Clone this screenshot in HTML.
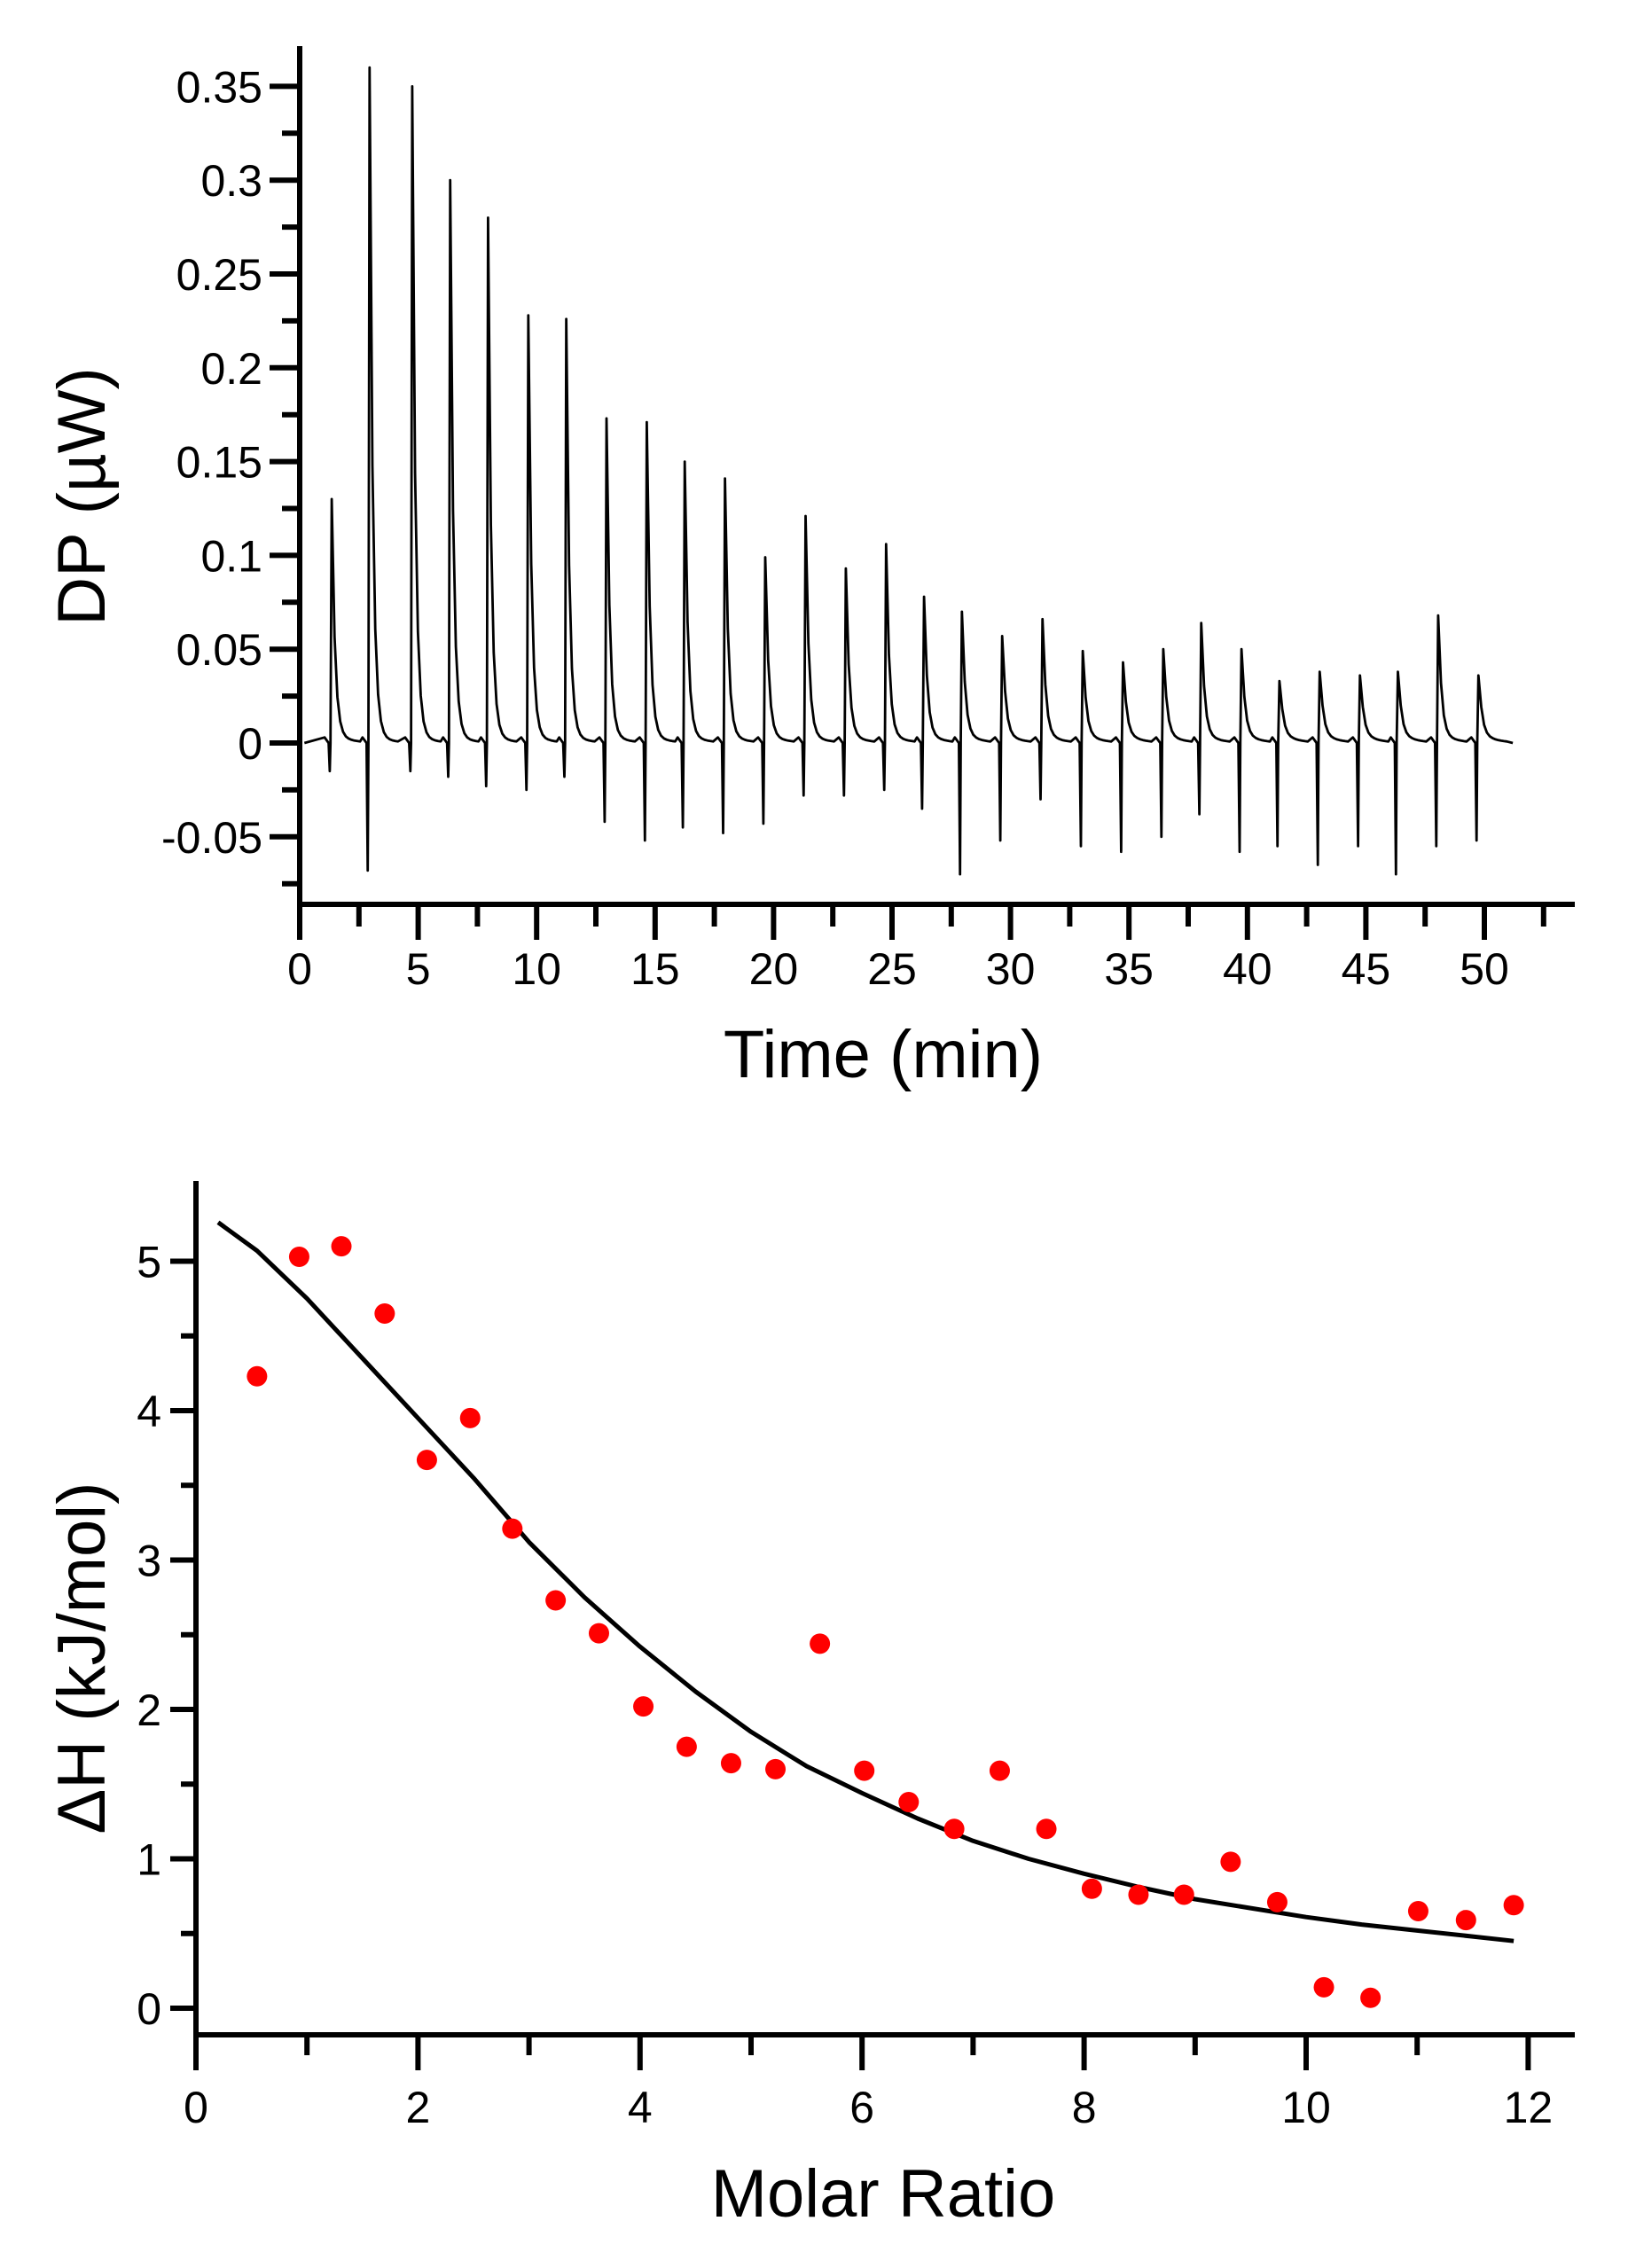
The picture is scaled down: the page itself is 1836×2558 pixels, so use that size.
<!DOCTYPE html>
<html><head><meta charset="utf-8">
<style>
html,body{margin:0;padding:0;background:#fff;}
svg{display:block;font-family:"Liberation Sans",sans-serif;}
</style></head>
<body>
<svg id="chart" width="1836" height="2558" viewBox="0 0 1836 2558" xmlns="http://www.w3.org/2000/svg">
<g id="topPanel"></g>
<g id="botPanel"></g>
</svg>
<script>
// ---- Thermogram data ----
const injTimes = [1.3,2.9,4.7,6.3,7.9,9.6,11.2,12.9,14.6,16.2,17.9,19.6,21.3,23.0,24.7,26.3,27.9,29.6,31.3,33.0,34.7,36.4,38.0,39.7,41.3,43.0,44.7,46.3,48.0,49.7];
const injPeaks = [0.13,0.36,0.35,0.30,0.28,0.228,0.226,0.173,0.171,0.15,0.141,0.099,0.121,0.093,0.106,0.078,0.07,0.057,0.066,0.049,0.043,0.05,0.064,0.05,0.033,0.038,0.036,0.038,0.068,0.036];
const injDips = [-0.015,-0.068,-0.015,-0.018,-0.023,-0.025,-0.018,-0.042,-0.052,-0.045,-0.048,-0.043,-0.028,-0.028,-0.025,-0.035,-0.07,-0.052,-0.03,-0.055,-0.058,-0.05,-0.038,-0.058,-0.055,-0.065,-0.055,-0.07,-0.055,-0.052];
const dpTicks = ["-0.05","0","0.05","0.1","0.15","0.2","0.25","0.3","0.35"];
const timeTicks = ["0","5","10","15","20","25","30","35","40","45","50"];
// ---- Isotherm data ----
const ratioX = [0.55,0.93,1.31,1.7,2.08,2.47,2.85,3.24,3.63,4.03,4.42,4.82,5.22,5.62,6.02,6.42,6.83,7.24,7.66,8.07,8.49,8.9,9.32,9.74,10.16,10.58,11.01,11.44,11.87];
const dH = [4.23,5.03,5.1,4.65,3.67,3.95,3.21,2.73,2.51,2.02,1.75,1.64,1.6,2.44,1.59,1.38,1.2,1.59,1.2,0.8,0.76,0.76,0.98,0.71,0.14,0.07,0.65,0.59,0.69];
const fitX = [0.2,0.55,1,1.5,2,2.5,3,3.5,4,4.5,5,5.5,6,6.5,7,7.5,8,8.5,9,9.5,10,10.5,11,11.5,11.87];
const fitY = [5.26,5.07,4.75,4.35,3.95,3.55,3.12,2.75,2.42,2.12,1.85,1.62,1.44,1.27,1.12,1.0,0.9,0.81,0.73,0.67,0.61,0.56,0.52,0.48,0.45];
const ratioTicks = ["0","2","4","6","8","10","12"];
const dHTicks = ["0","1","2","3","4","5"];

const NS="http://www.w3.org/2000/svg";
function mk(parent,tag,attrs,text){const e=document.createElementNS(NS,tag);for(const k in attrs)e.setAttribute(k,attrs[k]);if(text!==undefined)e.textContent=text;parent.appendChild(e);return e;}
const AX=6, TF=50, TT=76;

// ---- Top panel ----
const topG=document.getElementById('topPanel');
const tx=t=>338+t*26.72;
const ty=v=>838-v*2116;
let a=mk(topG,'line',{x1:338,y1:52,x2:338,y2:1020,stroke:'#000','stroke-width':AX});


a=mk(topG,'line',{x1:335,y1:1020,x2:1776,y2:1020,stroke:'#000','stroke-width':AX});


for(let i=-3;i<=14;i++){const v=i*0.025;const y=ty(v);const major=i%2===0;
  const l=mk(topG,'line',{x1:major?304:318,y1:y,x2:338,y2:y,stroke:'#000','stroke-width':AX});
  
  }
dpTicks.forEach(s=>{const t=mk(topG,'text',{x:296,y:ty(parseFloat(s))+18,'text-anchor':'end','font-size':TF},s);
  
  });
for(let i=0;i<=21;i++){const x=tx(i*2.5);const major=i%2===0;
  const l=mk(topG,'line',{x1:x,y1:1020,x2:x,y2:major?1060:1045,stroke:'#000','stroke-width':AX});
  
  }
timeTicks.forEach(s=>{const t=mk(topG,'text',{x:tx(parseFloat(s)),y:1110,'text-anchor':'middle','font-size':TF},s);
  
  });
let tt=mk(topG,'text',{x:996,y:1215,'text-anchor':'middle','font-size':TT},'Time (min)');


tt=mk(topG,'text',{x:0,y:0,'text-anchor':'middle','font-size':TT,transform:'translate(118,560) rotate(-90)'},'DP (µW)');


let pts=[[0.2,0]];
injTimes.forEach((t,i)=>{
  pts.push([t-0.25,0.003]);
  pts.push([t-0.08,0.0]);
  pts.push([t-0.03,injDips[i]]);
  pts.push([t,0.0]);
  pts.push([t+0.05,injPeaks[i]]);
  for(let k=1;k<=10;k++){const dt=k*0.12;pts.push([t+0.05+dt,injPeaks[i]*Math.exp(-dt/0.13)+0.006*Math.exp(-dt/0.6)]);}
});
pts.push([51.2,0]);
pts.sort((p,q)=>p[0]-q[0]);
const d=pts.map((p,i)=>(i?'L':'M')+tx(p[0]).toFixed(1)+','+ty(p[1]).toFixed(1)).join('');
const tr=mk(topG,'path',{d:d,fill:'none',stroke:'#000','stroke-width':2.8,'stroke-linejoin':'round'});



// ---- Bottom panel ----
const botG=document.getElementById('botPanel');
const bx=r=>221+r*125.2;
const by=v=>2265-v*168.5;
a=mk(botG,'line',{x1:221,y1:1332,x2:221,y2:2298,stroke:'#000','stroke-width':AX});


a=mk(botG,'line',{x1:218,y1:2295,x2:1776,y2:2295,stroke:'#000','stroke-width':AX});


for(let i=0;i<=10;i++){const y=by(i*0.5);const major=i%2===0;
  const l=mk(botG,'line',{x1:major?192:204,y1:y,x2:221,y2:y,stroke:'#000','stroke-width':AX});
  
  }
dHTicks.forEach(s=>{const t=mk(botG,'text',{x:182,y:by(parseFloat(s))+18,'text-anchor':'end','font-size':TF},s);
  
  });
for(let i=0;i<=12;i++){const x=bx(i);const major=i%2===0;
  const l=mk(botG,'line',{x1:x,y1:2295,x2:x,y2:major?2335:2318,stroke:'#000','stroke-width':AX});
  
  }
ratioTicks.forEach(s=>{const t=mk(botG,'text',{x:bx(parseFloat(s)),y:2394,'text-anchor':'middle','font-size':TF},s);
  
  });
tt=mk(botG,'text',{x:996,y:2500,'text-anchor':'middle','font-size':TT},'Molar Ratio');


tt=mk(botG,'text',{x:0,y:0,'text-anchor':'middle','font-size':TT,transform:'translate(118,1870) rotate(-90)'},'ΔH (kJ/mol)');


const fd=fitX.map((x,i)=>(i?'L':'M')+bx(x).toFixed(1)+','+by(fitY[i]).toFixed(1)).join('');
const fl=mk(botG,'path',{d:fd,fill:'none',stroke:'#000','stroke-width':5,'stroke-linejoin':'round'});


ratioX.forEach((x,i)=>{const c=mk(botG,'circle',{cx:bx(x),cy:by(dH[i]),r:11.5,fill:'#ff0000'});
  
  });
</script>
</body></html>
